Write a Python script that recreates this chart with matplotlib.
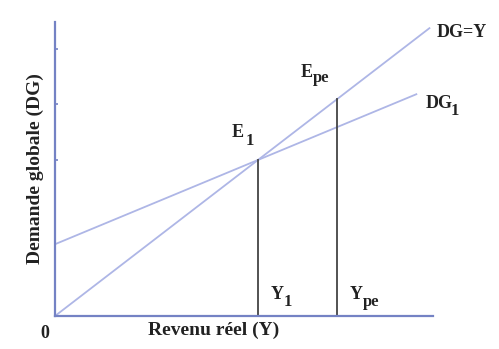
import numpy as np
import matplotlib
matplotlib.use("Agg")
import matplotlib.pyplot as plt

# Model values
c0 = 2.3          # autonomous demand (DG1 intercept)
b = 0.54          # slope of DG1
y1 = 5.0          # equilibrium income Y1
ype = 6.95        # potential income Ype
x_end_45 = 9.24   # where DG=Y line stops
x_end_dg1 = 8.92  # where DG1 line stops
y_ticks = [5.0, 6.8, 8.55]

plt.rcParams['font.family'] = ['Liberation Serif', 'DejaVu Serif']

fig = plt.figure(figsize=(4.99, 3.49), dpi=100)
ax = fig.add_axes([55 / 499, 33 / 349, 378 / 499, 294 / 349])
ax.set_xlim(0, 9.31)
ax.set_ylim(0, 9.42)

axis_col = '#7482c4'
line_col = '#aeb6e6'
txt_col = '#222222'

# Lines
x45 = np.array([0, x_end_45])
ax.plot(x45, x45, color=line_col, lw=1.3, solid_capstyle='butt')
xd = np.array([0, x_end_dg1])
ax.plot(xd, c0 + b * xd, color=line_col, lw=1.3, solid_capstyle='butt')

# Verticals
ax.plot([y1, y1], [0, c0 + b * y1], color='#444444', lw=1.3)
ax.plot([ype, ype], [0, ype], color='#444444', lw=1.3)

# Axes styling
for s in ['top', 'right']:
    ax.spines[s].set_visible(False)
for s in ['left', 'bottom']:
    ax.spines[s].set_color(axis_col)
    ax.spines[s].set_linewidth(1.6)
ax.set_xticks([])
ax.set_yticks(y_ticks)
ax.tick_params(axis='y', length=2, width=1.2, color=axis_col, direction='in', labelleft=False)


def label(x, y, main, sub=None, gap=2, drop=-4, fs=13):
    t = ax.text(x, y, main, ha='left', va='baseline', fontsize=fs,
                fontweight='bold', color=txt_col)
    if sub:
        ax.annotate(sub, xy=(1, 0), xycoords=t, xytext=(gap, drop),
                    textcoords='offset points', ha='left', va='bottom',
                    fontsize=fs - 1, fontweight='bold', color=txt_col)
    return t


label(y1 - 0.65, c0 + b * y1 + 0.75, 'E', '1', gap=1, drop=-6)
label(ype - 0.9, ype + 0.72, 'E', 'pe', gap=0, drop=-4)
label(x_end_dg1 + 0.2, c0 + b * x_end_dg1 - 0.45, 'DG', '1', gap=-1, drop=-5)
label(x_end_45 + 0.15, x_end_45 - 0.3, 'DG=Y')
label(y1 + 0.3, 0.55, 'Y', '1', gap=0, drop=-5)
label(ype + 0.3, 0.55, 'Y', 'pe', gap=0, drop=-5)
ax.text(-0.25, -0.3, '0', ha='center', va='top', fontsize=13,
        fontweight='bold', color=txt_col)

ax.set_xlabel('Revenu réel (Y)', fontsize=14, labelpad=4, x=0.42,
              color=txt_col, fontweight='bold')
ax.set_ylabel('Demande globale (DG)', fontsize=14, labelpad=8,
              color=txt_col, fontweight='bold')

fig.savefig('out.png', dpi=100)
